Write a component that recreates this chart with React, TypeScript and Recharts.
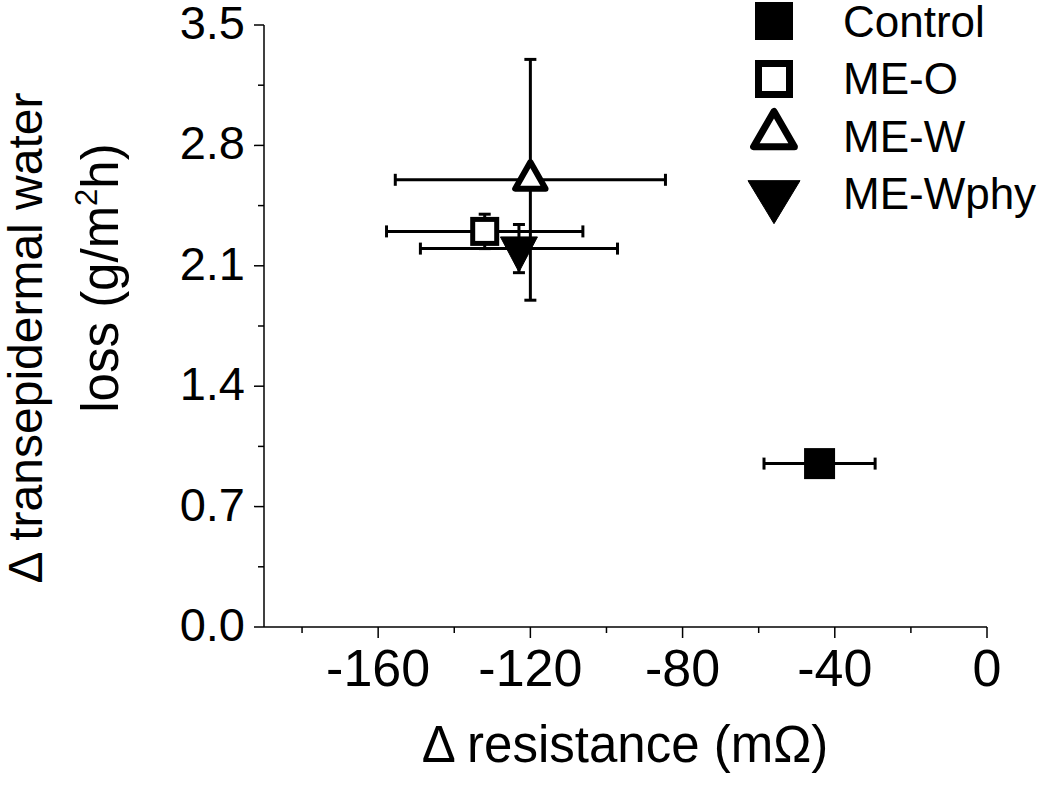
import React from 'react';
import { ScatterChart, Scatter, XAxis, YAxis, ErrorBar, Legend } from 'recharts';

const groups = ['Control', 'ME-O', 'ME-W', 'ME-Wphy'];
const resistance = [-44, -132, -120, -123];
const resistanceErr = [14.6, 25.8, 35.5, 25.9];
const tewl = [0.95, 2.3, 2.6, 2.2];
const tewlErr = [0.04, 0.1, 0.7, 0.14];

const xMajorTicks = [-160, -120, -80, -40, 0];
const xMinorTicks = [-180, -140, -100, -60, -20];
const yMajorTicks = [0, 0.7, 1.4, 2.1, 2.8, 3.5];
const yMinorTicks = [0.35, 1.05, 1.75, 2.45, 3.15];
const xDomain: [number, number] = [-190, 0];
const yDomain: [number, number] = [0, 3.5];

const FONT = '"Liberation Sans", Arial, sans-serif';

const seriesData = groups.map((g, i) => [
  { name: g, x: resistance[i], y: tewl[i], ex: resistanceErr[i], ey: tewlErr[i] },
]);

const xTicksAll = [...xMinorTicks, ...xMajorTicks].sort((a, b) => a - b);
const yTicksAll = [...yMinorTicks, ...yMajorTicks].sort((a, b) => a - b);

const isIn = (arr: number[], v: number) => arr.some((t) => Math.abs(t - v) < 1e-6);

const XTick = (props: any) => {
  const { x, y, payload } = props;
  const v = payload.value;
  const major = isIn(xMajorTicks, v);
  return (
    <g>
      <line x1={x} x2={x} y1={y} y2={y + (major ? 11 : 6)} stroke="#000" strokeWidth={1.5} />
      {major && (
        <text x={x} y={y + 59} textAnchor="middle" fontSize={52} fontFamily={FONT} fill="#000">
          {String(v)}
        </text>
      )}
    </g>
  );
};

const YTick = (props: any) => {
  const { x, y, payload } = props;
  const v = payload.value;
  const major = isIn(yMajorTicks, v);
  return (
    <g>
      <line x1={x - (major ? 10 : 6)} x2={x} y1={y} y2={y} stroke="#000" strokeWidth={1.5} />
      {major && (
        <text x={x - 19} y={y + 14} textAnchor="end" fontSize={47} fontFamily={FONT} fill="#000">
          {v.toFixed(1)}
        </text>
      )}
    </g>
  );
};

const XTitle = () => (
  <text x={625} y={762} textAnchor="middle" fontSize={51} fontFamily={FONT} fill="#000">
    Δ resistance (mΩ)
  </text>
);

const YTitle = () => (
  <g fontFamily={FONT} fill="#000">
    <text x={42} y={338} textAnchor="middle" fontSize={48} transform="rotate(-90, 42, 338)">
      Δ transepidermal water
    </text>
    <text x={118} y={278} textAnchor="middle" fontSize={51} transform="rotate(-90, 118, 278)">
      loss (g/m<tspan dy={-21} fontSize={31}>2</tspan>
      <tspan dy={21}>h)</tspan>
    </text>
  </g>
);

// marker drawers
const filledSquare = (cx: number, cy: number, s: number) => (
  <rect x={cx - s / 2} y={cy - s / 2} width={s} height={s} fill="#000" />
);
const openSquare = (cx: number, cy: number, s: number, sw: number) => (
  <rect
    x={cx - s / 2 + sw / 2}
    y={cy - s / 2 + sw / 2}
    width={s - sw}
    height={s - sw}
    fill="#fff"
    stroke="#000"
    strokeWidth={sw}
  />
);
const openTriUp = (cx: number, cy: number, w: number, h: number, sw: number) => {
  const ww = w - sw * 1.6;
  const hh = h - sw * 1.4;
  const pts = `${cx},${cy - (2 * hh) / 3} ${cx - ww / 2},${cy + hh / 3} ${cx + ww / 2},${cy + hh / 3}`;
  return <polygon points={pts} fill="#fff" stroke="#000" strokeWidth={sw} strokeLinejoin="round" />;
};
const filledTriDown = (cx: number, cy: number, w: number, h: number) => {
  const pts = `${cx - w / 2},${cy - h / 3} ${cx + w / 2},${cy - h / 3} ${cx},${cy + (2 * h) / 3}`;
  return <polygon points={pts} fill="#000" stroke="#000" strokeWidth={1} strokeLinejoin="round" />;
};

const shapes = [
  (p: any) => filledSquare(p.cx, p.cy, 31),
  (p: any) => openSquare(p.cx, p.cy, 29, 5),
  (p: any) => openTriUp(p.cx, p.cy, 40, 35, 6),
  (p: any) => filledTriDown(p.cx, p.cy, 37, 35),
];

const legendSymbols = [
  (cx: number, cy: number) => filledSquare(cx, cy, 38),
  (cx: number, cy: number) => openSquare(cx, cy, 38, 7),
  (cx: number, cy: number) => openTriUp(cx, cy + 4, 52, 45, 7),
  (cx: number, cy: number) => filledTriDown(cx, cy - 6, 52, 43),
];
const legendSymbolY = [21, 79, 131, 201];
const legendTextY = [37, 94, 152, 209];

const LegendContent = () => (
  <svg width={320} height={230} style={{ display: 'block', overflow: 'visible' }}>
    {groups.map((g, i) => (
      <g key={g}>
        {legendSymbols[i](44, legendSymbolY[i])}
        <text x={113} y={legendTextY[i]} fontSize={44} fontFamily={FONT} fill="#000">
          {g}
        </text>
      </g>
    ))}
  </svg>
);

export default function App() {
  return (
    <div style={{ position: 'absolute', left: 0, top: 0, width: 1050, height: 785, background: '#fff' }}>
      <ScatterChart width={1050} height={785} margin={{ top: 25, right: 63, left: 0, bottom: 0 }}>
        <XAxis
          type="number"
          dataKey="x"
          domain={xDomain}
          ticks={xTicksAll}
          interval={0}
          allowDataOverflow
          tickSize={0}
          tickMargin={0}
          tickLine={false}
          axisLine={{ stroke: '#000', strokeWidth: 1.5 }}
          tick={XTick}
          height={158}
          label={XTitle}
        />
        <YAxis
          type="number"
          dataKey="y"
          domain={yDomain}
          ticks={yTicksAll}
          interval={0}
          allowDataOverflow
          tickSize={0}
          tickMargin={0}
          tickLine={false}
          axisLine={{ stroke: '#000', strokeWidth: 1.5 }}
          tick={YTick}
          width={264}
          label={YTitle}
        />
        <Legend
          layout="horizontal"
          verticalAlign="middle"
          align="center"
          wrapperStyle={{ position: 'absolute', left: 730, top: 0, width: 320, height: 230 }}
          content={LegendContent}
        />
        {groups.map((g, i) => (
          <Scatter
            key={g}
            name={g}
            data={seriesData[i]}
            shape={shapes[i]}
            isAnimationActive={false}
          >
            <ErrorBar dataKey="ex" direction="x" width={6} stroke="#000" strokeWidth={3} isAnimationActive={false} />
            <ErrorBar dataKey="ey" direction="y" width={6} stroke="#000" strokeWidth={3} isAnimationActive={false} />
          </Scatter>
        ))}
      </ScatterChart>
    </div>
  );
}
